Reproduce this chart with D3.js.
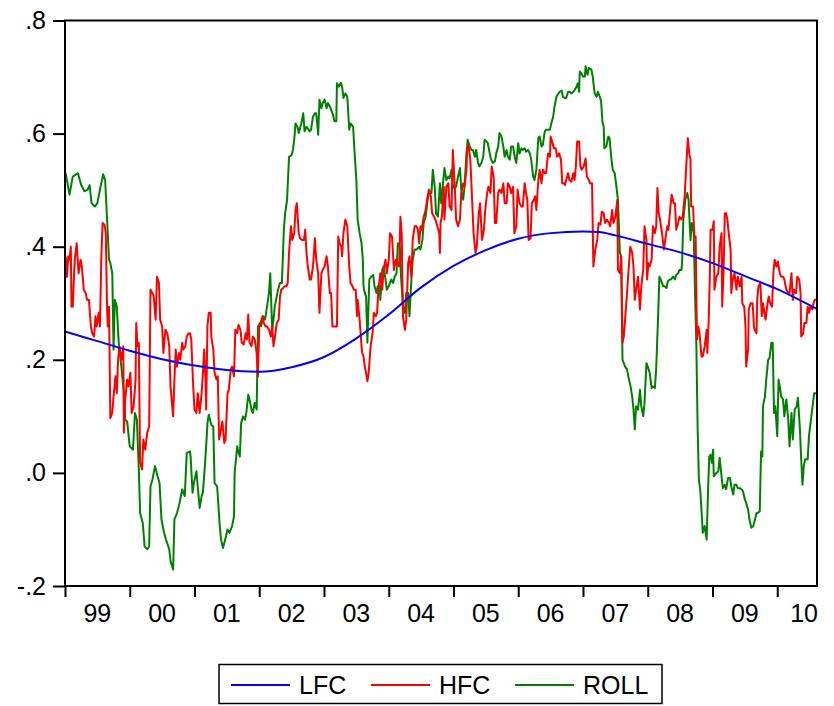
<!DOCTYPE html>
<html>
<head>
<meta charset="utf-8">
<script src="https://cdn.jsdelivr.net/npm/d3@7/dist/d3.min.js"></script>
<style>
  html, body { margin: 0; padding: 0; background: #fff; }
  svg { display: block; }
  text { font-family: "Liberation Sans", Arial, Helvetica, sans-serif; fill: #000; }
</style>
</head>
<body>
<svg id="chart" width="834" height="706"></svg>
<script>
// Time is in decimal years; values are weekly-sampled vertices of each series.
const years = [1999, 2000, 2001, 2002, 2003, 2004, 2005, 2006, 2007, 2008, 2009, 2010];
const yearLabels = ["99", "00", "01", "02", "03", "04", "05", "06", "07", "08", "09", "10"];
const yTicks = [-0.2, 0.0, 0.2, 0.4, 0.6, 0.8];
const yTickLabels = ["-.2", ".0", ".2", ".4", ".6", ".8"];
const seriesNames = ["LFC", "HFC", "ROLL"];
const seriesColors = ["#0000ff", "#ff0000", "#008000"];
const timeRange = [1999.0, 2010.614];

const lfc = [[1999.0,0.250],[1999.5,0.233],[2000.0,0.216],[2000.5,0.201],[2001.0,0.190],[2001.5,0.182],[2002.0,0.179],[2002.5,0.187],[2003.0,0.205],[2003.5,0.238],[2004.0,0.280],[2004.5,0.328],[2005.0,0.366],[2005.5,0.394],[2006.0,0.414],[2006.5,0.424],[2007.0,0.427],[2007.25,0.426],[2007.5,0.420],[2008.0,0.405],[2008.5,0.390],[2009.0,0.371],[2009.5,0.348],[2010.0,0.325],[2010.61,0.290]];

const hfc = [[1999.01,0.383],[1999.03,0.347],[1999.05,0.383],[1999.07,0.377],[1999.09,0.400],[1999.10,0.294],[1999.12,0.294],[1999.15,0.377],[1999.18,0.406],[1999.21,0.353],[1999.24,0.377],[1999.26,0.365],[1999.29,0.324],[1999.32,0.318],[1999.34,0.306],[1999.37,0.306],[1999.40,0.259],[1999.42,0.247],[1999.45,0.241],[1999.47,0.277],[1999.49,0.259],[1999.52,0.283],[1999.54,0.259],[1999.56,0.377],[1999.58,0.442],[1999.61,0.439],[1999.63,0.424],[1999.65,0.289],[1999.66,0.259],[1999.68,0.294],[1999.70,0.097],[1999.73,0.106],[1999.75,0.135],[1999.78,0.171],[1999.80,0.141],[1999.82,0.200],[1999.84,0.224],[1999.87,0.200],[1999.90,0.224],[1999.91,0.071],[1999.93,0.130],[1999.96,0.165],[1999.98,0.153],[2000.01,0.177],[2000.03,0.106],[2000.06,0.118],[2000.09,0.165],[2000.10,0.265],[2000.12,0.224],[2000.14,0.230],[2000.16,0.018],[2000.19,0.006],[2000.21,0.059],[2000.24,0.041],[2000.27,0.071],[2000.30,0.082],[2000.32,0.324],[2000.35,0.318],[2000.37,0.312],[2000.40,0.271],[2000.42,0.347],[2000.45,0.336],[2000.47,0.271],[2000.50,0.259],[2000.52,0.212],[2000.55,0.253],[2000.58,0.247],[2000.61,0.224],[2000.63,0.153],[2000.67,0.100],[2000.69,0.165],[2000.71,0.218],[2000.73,0.188],[2000.76,0.212],[2000.78,0.200],[2000.81,0.230],[2000.83,0.218],[2000.86,0.224],[2000.88,0.241],[2000.91,0.247],
[2000.93,0.247],[2000.95,0.236],[2000.98,0.153],[2001.00,0.112],[2001.03,0.106],[2001.05,0.141],[2001.08,0.106],[2001.11,0.141],[2001.13,0.177],[2001.15,0.218],[2001.17,0.165],[2001.18,0.112],[2001.20,0.259],[2001.22,0.283],[2001.25,0.283],[2001.26,0.241],[2001.29,0.218],[2001.31,0.177],[2001.34,0.165],[2001.36,0.171],[2001.38,0.059],[2001.40,0.071],[2001.43,0.091],[2001.46,0.053],[2001.48,0.059],[2001.51,0.141],[2001.53,0.147],[2001.56,0.183],[2001.58,0.188],[2001.61,0.171],[2001.63,0.253],[2001.66,0.247],[2001.68,0.262],[2001.71,0.253],[2001.73,0.230],[2001.76,0.227],[2001.79,0.247],[2001.81,0.236],[2001.83,0.280],[2001.85,0.230],[2001.88,0.224],[2001.90,0.241],[2001.93,0.236],[2001.96,0.212],[2001.98,0.171],[2002.00,0.259],[2002.02,0.265],[2002.05,0.277],[2002.07,0.265],[2002.10,0.259],[2002.12,0.259],[2002.15,0.253],[2002.18,0.241],[2002.20,0.259],[2002.22,0.224],[2002.25,0.247],[2002.27,0.265],[2002.30,0.271],[2002.32,0.312],[2002.34,0.324],[2002.37,0.327],[2002.39,0.330],[2002.42,0.330],[2002.44,0.336],[2002.46,0.389],[2002.49,0.436],[2002.51,0.412],[2002.54,0.424],[2002.56,0.465],[2002.58,0.477],[2002.61,0.424],[2002.63,0.415],[2002.66,0.412],[2002.69,0.412],[2002.71,0.430],[2002.73,0.389],[2002.75,0.365],[2002.78,0.342],[2002.80,0.342],[2002.83,0.365],[2002.86,0.415],
[2002.88,0.377],[2002.91,0.353],[2002.93,0.283],[2002.96,0.353],[2002.98,0.359],[2003.01,0.365],[2003.04,0.383],[2003.06,0.365],[2003.09,0.318],[2003.11,0.318],[2003.13,0.259],[2003.15,0.259],[2003.18,0.259],[2003.20,0.259],[2003.22,0.418],[2003.24,0.406],[2003.27,0.400],[2003.28,0.383],[2003.30,0.424],[2003.33,0.448],[2003.36,0.436],[2003.39,0.365],[2003.41,0.336],[2003.44,0.330],[2003.46,0.324],[2003.49,0.324],[2003.51,0.277],[2003.52,0.306],[2003.55,0.271],[2003.58,0.224],[2003.59,0.212],[2003.61,0.206],[2003.63,0.188],[2003.65,0.177],[2003.67,0.162],[2003.69,0.177],[2003.72,0.224],[2003.75,0.247],[2003.77,0.283],[2003.80,0.277],[2003.82,0.283],[2003.84,0.324],[2003.87,0.353],[2003.90,0.324],[2003.92,0.359],[2003.95,0.377],[2003.97,0.353],[2004.00,0.377],[2004.02,0.424],[2004.05,0.418],[2004.08,0.359],[2004.11,0.377],[2004.13,0.371],[2004.16,0.365],[2004.18,0.453],[2004.20,0.424],[2004.22,0.277],[2004.25,0.253],[2004.27,0.271],[2004.30,0.371],[2004.32,0.383],[2004.35,0.347],[2004.37,0.412],[2004.40,0.436],[2004.43,0.436],[2004.45,0.430],[2004.47,0.406],[2004.49,0.436],[2004.51,0.430],[2004.54,0.453],[2004.57,0.465],[2004.60,0.489],[2004.62,0.501],[2004.65,0.489],[2004.67,0.459],[2004.70,0.453],[2004.72,0.448],[2004.75,0.436],[2004.78,0.424],
[2004.79,0.389],[2004.80,0.442],[2004.82,0.453],[2004.85,0.506],[2004.86,0.448],[2004.89,0.506],[2004.92,0.512],[2004.94,0.471],[2004.97,0.465],[2004.99,0.571],[2005.02,0.506],[2005.04,0.448],[2005.07,0.436],[2005.10,0.448],[2005.12,0.495],[2005.15,0.512],[2005.17,0.506],[2005.20,0.536],[2005.21,0.571],[2005.23,0.580],[2005.26,0.554],[2005.29,0.477],[2005.31,0.424],[2005.34,0.389],[2005.36,0.400],[2005.39,0.459],[2005.41,0.477],[2005.44,0.412],[2005.47,0.430],[2005.49,0.465],[2005.52,0.495],[2005.54,0.506],[2005.57,0.495],[2005.59,0.542],[2005.62,0.524],[2005.64,0.442],[2005.66,0.442],[2005.69,0.495],[2005.71,0.501],[2005.74,0.495],[2005.77,0.512],[2005.79,0.477],[2005.82,0.477],[2005.84,0.512],[2005.87,0.506],[2005.89,0.495],[2005.92,0.506],[2005.94,0.424],[2005.97,0.436],[2005.99,0.501],[2006.02,0.477],[2006.05,0.471],[2006.07,0.471],[2006.10,0.512],[2006.12,0.495],[2006.14,0.483],[2006.16,0.412],[2006.19,0.415],[2006.21,0.477],[2006.24,0.483],[2006.26,0.489],[2006.28,0.465],[2006.31,0.518],[2006.33,0.536],[2006.36,0.512],[2006.38,0.536],[2006.41,0.530],[2006.43,0.530],[2006.46,0.565],[2006.49,0.559],[2006.50,0.595],[2006.53,0.583],[2006.55,0.574],[2006.58,0.574],[2006.60,0.559],[2006.63,0.565],[2006.66,0.554],[2006.68,0.512],[2006.71,0.512],
[2006.72,0.509],[2006.74,0.518],[2006.77,0.530],[2006.79,0.518],[2006.82,0.515],[2006.85,0.530],[2006.87,0.518],[2006.89,0.542],[2006.91,0.586],[2006.94,0.586],[2006.96,0.542],[2006.98,0.536],[2007.01,0.542],[2007.04,0.556],[2007.06,0.524],[2007.09,0.518],[2007.11,0.512],[2007.14,0.512],[2007.16,0.365],[2007.19,0.395],[2007.22,0.412],[2007.24,0.442],[2007.27,0.439],[2007.29,0.462],[2007.32,0.459],[2007.34,0.442],[2007.37,0.448],[2007.40,0.442],[2007.42,0.436],[2007.45,0.465],[2007.47,0.442],[2007.50,0.453],[2007.53,0.483],[2007.54,0.359],[2007.57,0.353],[2007.59,0.383],[2007.61,0.230],[2007.63,0.241],[2007.65,0.271],[2007.68,0.318],[2007.70,0.353],[2007.73,0.400],[2007.76,0.389],[2007.78,0.365],[2007.80,0.306],[2007.82,0.324],[2007.85,0.347],[2007.88,0.289],[2007.90,0.330],[2007.93,0.359],[2007.95,0.436],[2007.98,0.412],[2007.99,0.342],[2008.01,0.371],[2008.03,0.365],[2008.06,0.377],[2008.08,0.436],[2008.11,0.424],[2008.13,0.436],[2008.15,0.504],[2008.17,0.459],[2008.19,0.448],[2008.22,0.424],[2008.25,0.395],[2008.27,0.412],[2008.30,0.436],[2008.32,0.430],[2008.35,0.471],[2008.37,0.492],[2008.40,0.477],[2008.42,0.477],[2008.44,0.430],[2008.47,0.442],[2008.49,0.453],[2008.52,0.448],[2008.54,0.453],[2008.57,0.489],[2008.60,0.554],[2008.62,0.592],
[2008.64,0.565],[2008.66,0.554],[2008.67,0.471],[2008.70,0.471],[2008.72,0.418],[2008.74,0.418],[2008.76,0.236],[2008.78,0.259],[2008.80,0.247],[2008.83,0.206],[2008.85,0.206],[2008.88,0.224],[2008.91,0.253],[2008.92,0.212],[2008.94,0.265],[2008.96,0.353],[2008.97,0.430],[2009.00,0.430],[2009.02,0.445],[2009.03,0.324],[2009.06,0.347],[2009.09,0.353],[2009.11,0.400],[2009.14,0.424],[2009.15,0.294],[2009.17,0.353],[2009.19,0.459],[2009.21,0.459],[2009.23,0.448],[2009.25,0.424],[2009.28,0.395],[2009.29,0.318],[2009.32,0.347],[2009.34,0.353],[2009.37,0.324],[2009.39,0.347],[2009.42,0.330],[2009.45,0.347],[2009.46,0.300],[2009.49,0.294],[2009.51,0.259],[2009.52,0.188],[2009.55,0.218],[2009.56,0.289],[2009.59,0.300],[2009.62,0.300],[2009.64,0.259],[2009.65,0.253],[2009.68,0.247],[2009.69,0.306],[2009.71,0.330],[2009.74,0.336],[2009.76,0.277],[2009.78,0.300],[2009.81,0.277],[2009.82,0.271],[2009.85,0.300],[2009.87,0.312],[2009.89,0.300],[2009.92,0.294],[2009.94,0.353],[2009.96,0.377],[2009.99,0.365],[2010.01,0.374],[2010.04,0.353],[2010.06,0.347],[2010.09,0.347],[2010.11,0.342],[2010.14,0.324],[2010.17,0.318],[2010.19,0.318],[2010.22,0.353],[2010.24,0.306],[2010.26,0.324],[2010.29,0.318],[2010.31,0.347],[2010.34,0.342],[2010.36,0.318],[2010.37,0.241],[2010.40,0.247],[2010.42,0.265],[2010.45,0.265],[2010.47,0.294],[2010.49,0.283],[2010.51,0.294],[2010.54,0.289],[2010.56,0.300],[2010.58,0.306],[2010.61,0.306]];

const roll = [[1999.01,0.530],[1999.07,0.492],[1999.12,0.524],[1999.20,0.530],[1999.25,0.509],[1999.30,0.498],[1999.35,0.501],[1999.38,0.509],[1999.41,0.477],[1999.46,0.471],[1999.50,0.477],[1999.55,0.507],[1999.59,0.528],[1999.62,0.518],[1999.65,0.448],[1999.68,0.377],[1999.70,0.371],[1999.73,0.353],[1999.75,0.218],[1999.77,0.306],[1999.80,0.294],[1999.83,0.230],[1999.87,0.188],[1999.91,0.141],[1999.93,0.094],[1999.96,0.091],[2000.00,0.047],[2000.05,0.041],[2000.08,0.106],[2000.11,0.094],[2000.14,0.006],[2000.16,-0.071],[2000.20,-0.088],[2000.23,-0.130],[2000.27,-0.135],[2000.30,-0.130],[2000.32,-0.024],[2000.35,-0.012],[2000.39,0.012],[2000.43,-0.006],[2000.46,-0.018],[2000.49,-0.082],[2000.53,-0.106],[2000.56,-0.118],[2000.61,-0.135],[2000.63,-0.156],[2000.67,-0.171],[2000.69,-0.082],[2000.73,-0.071],[2000.77,-0.053],[2000.81,-0.029],[2000.85,-0.041],[2000.88,0.035],[2000.93,0.038],
[2000.94,0.029],[2000.97,-0.035],[2000.99,-0.018],[2001.03,0.003],[2001.05,-0.024],[2001.08,-0.062],[2001.11,-0.041],[2001.13,-0.035],[2001.16,0.012],[2001.18,0.047],[2001.20,0.088],[2001.22,0.103],[2001.26,0.085],[2001.29,0.082],[2001.31,-0.018],[2001.35,-0.024],[2001.39,-0.094],[2001.41,-0.118],[2001.44,-0.133],[2001.48,-0.115],[2001.51,-0.100],[2001.54,-0.106],[2001.58,-0.094],[2001.61,-0.077],[2001.62,0.000],[2001.66,0.047],[2001.67,0.041],[2001.70,0.029],[2001.72,0.088],[2001.75,0.100],[2001.78,0.094],[2001.80,0.106],[2001.83,0.138],[2001.85,0.130],[2001.88,0.112],[2001.90,0.106],[2001.93,0.124],[2001.96,0.112],[2001.98,0.259],[2002.01,0.265],[2002.03,0.259],[2002.06,0.277],[2002.09,0.271],[2002.12,0.294],[2002.15,0.318],[2002.17,0.353],[2002.20,0.253],[2002.22,0.271],[2002.24,0.294],[2002.26,0.306],[2002.29,0.324],[2002.32,0.336],[2002.35,0.336],[2002.38,0.430],[2002.40,0.459],[2002.43,0.483],[2002.46,0.559],[2002.50,0.562],[2002.52,0.571],[2002.54,0.589],[2002.56,0.618],[2002.59,0.612],[2002.61,0.601],[2002.65,0.618],[2002.68,0.636],[2002.70,0.604],[2002.73,0.612],[2002.75,0.609],[2002.78,0.604],[2002.80,0.607],[2002.83,0.630],[2002.86,0.636],
[2002.88,0.636],[2002.91,0.598],[2002.93,0.660],[2002.96,0.645],[2002.98,0.654],[2003.01,0.660],[2003.04,0.645],[2003.06,0.654],[2003.09,0.648],[2003.11,0.642],[2003.14,0.633],[2003.16,0.622],[2003.19,0.622],[2003.20,0.689],[2003.23,0.683],[2003.26,0.690],[2003.28,0.683],[2003.30,0.663],[2003.33,0.671],[2003.36,0.665],[2003.39,0.607],[2003.41,0.618],[2003.45,0.612],[2003.47,0.571],[2003.50,0.518],[2003.52,0.448],[2003.55,0.424],[2003.58,0.406],[2003.60,0.377],[2003.61,0.330],[2003.63,0.318],[2003.65,0.312],[2003.67,0.230],[2003.69,0.306],[2003.70,0.342],[2003.73,0.347],[2003.76,0.350],[2003.78,0.330],[2003.81,0.318],[2003.83,0.330],[2003.86,0.330],[2003.87,0.306],[2003.90,0.359],[2003.92,0.365],[2003.95,0.342],[2003.97,0.324],[2004.00,0.330],[2004.04,0.342],[2004.07,0.336],[2004.09,0.347],[2004.12,0.353],[2004.14,0.406],[2004.17,0.400],[2004.19,0.347],[2004.22,0.294],[2004.25,0.283],[2004.27,0.318],[2004.30,0.318],[2004.32,0.277],[2004.35,0.342],[2004.37,0.377],[2004.40,0.395],[2004.43,0.395],[2004.47,0.400],[2004.49,0.395],[2004.52,0.412],[2004.54,0.442],[2004.57,0.453],[2004.60,0.483],[2004.63,0.498],[2004.66,0.495],[2004.68,0.536],[2004.71,0.506],[2004.73,0.459],[2004.76,0.453],
[2004.79,0.512],[2004.81,0.477],[2004.86,0.539],[2004.89,0.518],[2004.92,0.524],[2004.94,0.521],[2004.97,0.536],[2004.99,0.506],[2005.02,0.503],[2005.04,0.506],[2005.07,0.524],[2005.10,0.539],[2005.12,0.501],[2005.15,0.483],[2005.17,0.506],[2005.20,0.565],[2005.22,0.589],[2005.25,0.577],[2005.28,0.571],[2005.30,0.571],[2005.33,0.559],[2005.35,0.571],[2005.38,0.548],[2005.40,0.542],[2005.43,0.548],[2005.46,0.559],[2005.48,0.589],[2005.51,0.586],[2005.53,0.583],[2005.56,0.565],[2005.58,0.554],[2005.61,0.548],[2005.64,0.551],[2005.66,0.565],[2005.69,0.577],[2005.71,0.601],[2005.74,0.595],[2005.77,0.577],[2005.79,0.559],[2005.82,0.571],[2005.84,0.559],[2005.87,0.554],[2005.89,0.577],[2005.92,0.577],[2005.95,0.556],[2005.97,0.548],[2006.00,0.583],[2006.02,0.565],[2006.05,0.574],[2006.07,0.571],[2006.10,0.574],[2006.12,0.568],[2006.15,0.571],[2006.18,0.565],[2006.20,0.554],[2006.23,0.524],[2006.25,0.518],[2006.28,0.536],[2006.31,0.592],[2006.33,0.595],[2006.36,0.577],[2006.38,0.580],[2006.41,0.604],[2006.43,0.607],[2006.46,0.607],[2006.49,0.607],[2006.51,0.618],[2006.54,0.630],[2006.56,0.648],[2006.59,0.665],[2006.61,0.669],[2006.64,0.674],[2006.67,0.676],[2006.69,0.665],
[2006.72,0.663],[2006.74,0.663],[2006.77,0.674],[2006.79,0.674],[2006.82,0.671],[2006.85,0.674],[2006.87,0.677],[2006.90,0.683],[2006.92,0.689],[2006.94,0.674],[2006.95,0.710],[2006.97,0.707],[2007.00,0.701],[2007.03,0.701],[2007.04,0.719],[2007.07,0.704],[2007.09,0.716],[2007.13,0.713],[2007.15,0.701],[2007.18,0.671],[2007.21,0.665],[2007.23,0.674],[2007.26,0.665],[2007.28,0.657],[2007.30,0.621],[2007.32,0.612],[2007.33,0.574],[2007.36,0.577],[2007.39,0.595],[2007.41,0.592],[2007.44,0.554],[2007.46,0.536],[2007.49,0.530],[2007.51,0.512],[2007.54,0.483],[2007.57,0.389],[2007.59,0.383],[2007.61,0.200],[2007.63,0.194],[2007.65,0.188],[2007.68,0.183],[2007.71,0.165],[2007.73,0.156],[2007.76,0.135],[2007.78,0.112],[2007.80,0.077],[2007.82,0.118],[2007.85,0.112],[2007.88,0.147],[2007.90,0.118],[2007.93,0.100],[2007.95,0.124],[2007.98,0.194],[2008.00,0.188],[2008.03,0.177],[2008.06,0.150],[2008.08,0.153],[2008.11,0.150],[2008.13,0.183],[2008.16,0.277],[2008.18,0.347],[2008.21,0.339],[2008.24,0.330],[2008.26,0.330],[2008.29,0.327],[2008.31,0.339],[2008.34,0.342],[2008.36,0.342],[2008.39,0.347],[2008.42,0.342],[2008.44,0.350],[2008.47,0.353],[2008.49,0.359],[2008.52,0.359],[2008.53,0.371],[2008.55,0.448],[2008.58,0.483],[2008.61,0.495],[2008.63,0.483],
[2008.66,0.412],[2008.68,0.442],[2008.71,0.424],[2008.73,0.318],[2008.75,0.230],[2008.77,0.082],[2008.79,-0.012],[2008.81,-0.029],[2008.83,-0.065],[2008.85,-0.106],[2008.88,-0.094],[2008.91,-0.118],[2008.93,-0.035],[2008.95,0.029],[2008.97,0.032],[2008.99,0.018],[2009.01,0.041],[2009.02,-0.006],[2009.06,0.000],[2009.09,0.003],[2009.11,0.027],[2009.14,-0.006],[2009.16,-0.027],[2009.19,-0.021],[2009.21,-0.029],[2009.24,-0.009],[2009.27,-0.009],[2009.29,-0.024],[2009.32,-0.038],[2009.34,-0.021],[2009.37,-0.021],[2009.39,-0.027],[2009.42,-0.027],[2009.45,-0.029],[2009.47,-0.032],[2009.50,-0.047],[2009.52,-0.053],[2009.55,-0.065],[2009.57,-0.082],[2009.60,-0.097],[2009.63,-0.094],[2009.65,-0.085],[2009.68,-0.071],[2009.70,-0.071],[2009.73,-0.068],[2009.75,0.038],[2009.77,0.029],[2009.78,0.118],[2009.81,0.135],[2009.83,0.165],[2009.86,0.200],[2009.88,0.203],[2009.91,0.230],[2009.93,0.230],[2009.95,0.106],[2009.97,0.118],[2010.00,0.065],[2010.02,0.165],[2010.04,0.153],[2010.06,0.135],[2010.09,0.130],[2010.11,0.100],[2010.14,0.130],[2010.17,0.094],[2010.19,0.047],[2010.22,0.106],[2010.24,0.059],[2010.27,0.112],[2010.30,0.118],[2010.32,0.133],[2010.35,0.077],[2010.37,0.024],[2010.39,-0.021],[2010.41,0.012],[2010.43,0.024],[2010.47,0.024],[2010.49,0.065],[2010.52,0.094],[2010.54,0.112],[2010.57,0.141],[2010.61,0.141]];

const seriesData = [lfc, hfc, roll];

// ---- layout ----
const svg = d3.select("#chart");
const plot = { left: 65, right: 817, top: 20.5, bottom: 586 };
const FONT = 25;

const x = d3.scaleLinear().domain(timeRange).range([plot.left, plot.right]);
const y = d3.scaleLinear().domain([-0.2, 0.8]).range([plot.bottom, plot.top]);

svg.append("defs").append("clipPath").attr("id", "plotClip")
  .append("rect")
  .attr("x", plot.left).attr("y", plot.top)
  .attr("width", plot.right - plot.left).attr("height", plot.bottom - plot.top);

// series lines (ROLL drawn first, LFC on top)
const lineGen = d3.line().x(d => x(d[0])).y(d => y(d[1]));
const drawOrder = [2, 1, 0];
const gLines = svg.append("g").attr("clip-path", "url(#plotClip)");
drawOrder.forEach(i => {
  gLines.append("path")
    .datum(seriesData[i])
    .attr("fill", "none")
    .attr("stroke", seriesColors[i])
    .attr("stroke-width", 2)
    .attr("stroke-linejoin", "round")
    .attr("d", i === 0 ? lineGen.curve(d3.curveMonotoneX)(seriesData[i]) : d3.line().x(d => x(d[0])).y(d => y(d[1]))(seriesData[i]));
});

// frame
svg.append("rect")
  .attr("x", plot.left).attr("y", plot.top)
  .attr("width", plot.right - plot.left).attr("height", plot.bottom - plot.top)
  .attr("fill", "none").attr("stroke", "#000").attr("stroke-width", 2);

// y axis
const yAxis = d3.axisLeft(y)
  .tickValues(yTicks)
  .tickSize(12)
  .tickPadding(7)
  .tickFormat((d, i) => yTickLabels[i]);
const gy = svg.append("g").attr("transform", `translate(${plot.left},0)`).call(yAxis);
gy.select(".domain").remove();
gy.selectAll(".tick line").attr("stroke", "#000").attr("stroke-width", 2);
gy.selectAll(".tick text")
  .attr("font-size", FONT)
  .style("font-family", "'Liberation Sans', Arial, sans-serif")
  .attr("fill", "#000");

// x axis: ticks at year boundaries, labels centred in each year
const xAxis = d3.axisBottom(x)
  .tickValues(years)
  .tickSize(11)
  .tickFormat("");
const gx = svg.append("g").attr("transform", `translate(0,${plot.bottom})`).call(xAxis);
gx.select(".domain").remove();
gx.selectAll(".tick line").attr("stroke", "#000").attr("stroke-width", 2);

const xl = svg.append("g");
years.forEach((yr, i) => {
  const t = xl.append("text")
    .attr("x", x(Math.min(yr + 0.5, timeRange[1])))
    .attr("y", 622)
    .attr("text-anchor", "middle")
    .attr("font-size", FONT)
    .text(yearLabels[i]);
  const bb = t.node().getBBox();
  if (bb.x + bb.width > plot.right + 1) {
    t.attr("x", plot.right + 1 - bb.width / 2);
  }
});

// legend
const legend = svg.append("g");
legend.append("rect")
  .attr("x", 219).attr("y", 664.5)
  .attr("width", 443).attr("height", 39)
  .attr("fill", "#fff").attr("stroke", "#000").attr("stroke-width", 1.5);
const legendX = [231, 371, 515];
seriesNames.forEach((name, i) => {
  legend.append("line")
    .attr("x1", legendX[i]).attr("x2", legendX[i] + 59)
    .attr("y1", 685).attr("y2", 685)
    .attr("stroke", seriesColors[i]).attr("stroke-width", 2);
  legend.append("text")
    .attr("x", legendX[i] + 68)
    .attr("y", 693.5)
    .attr("font-size", FONT)
    .text(name);
});
</script>
</body>
</html>
